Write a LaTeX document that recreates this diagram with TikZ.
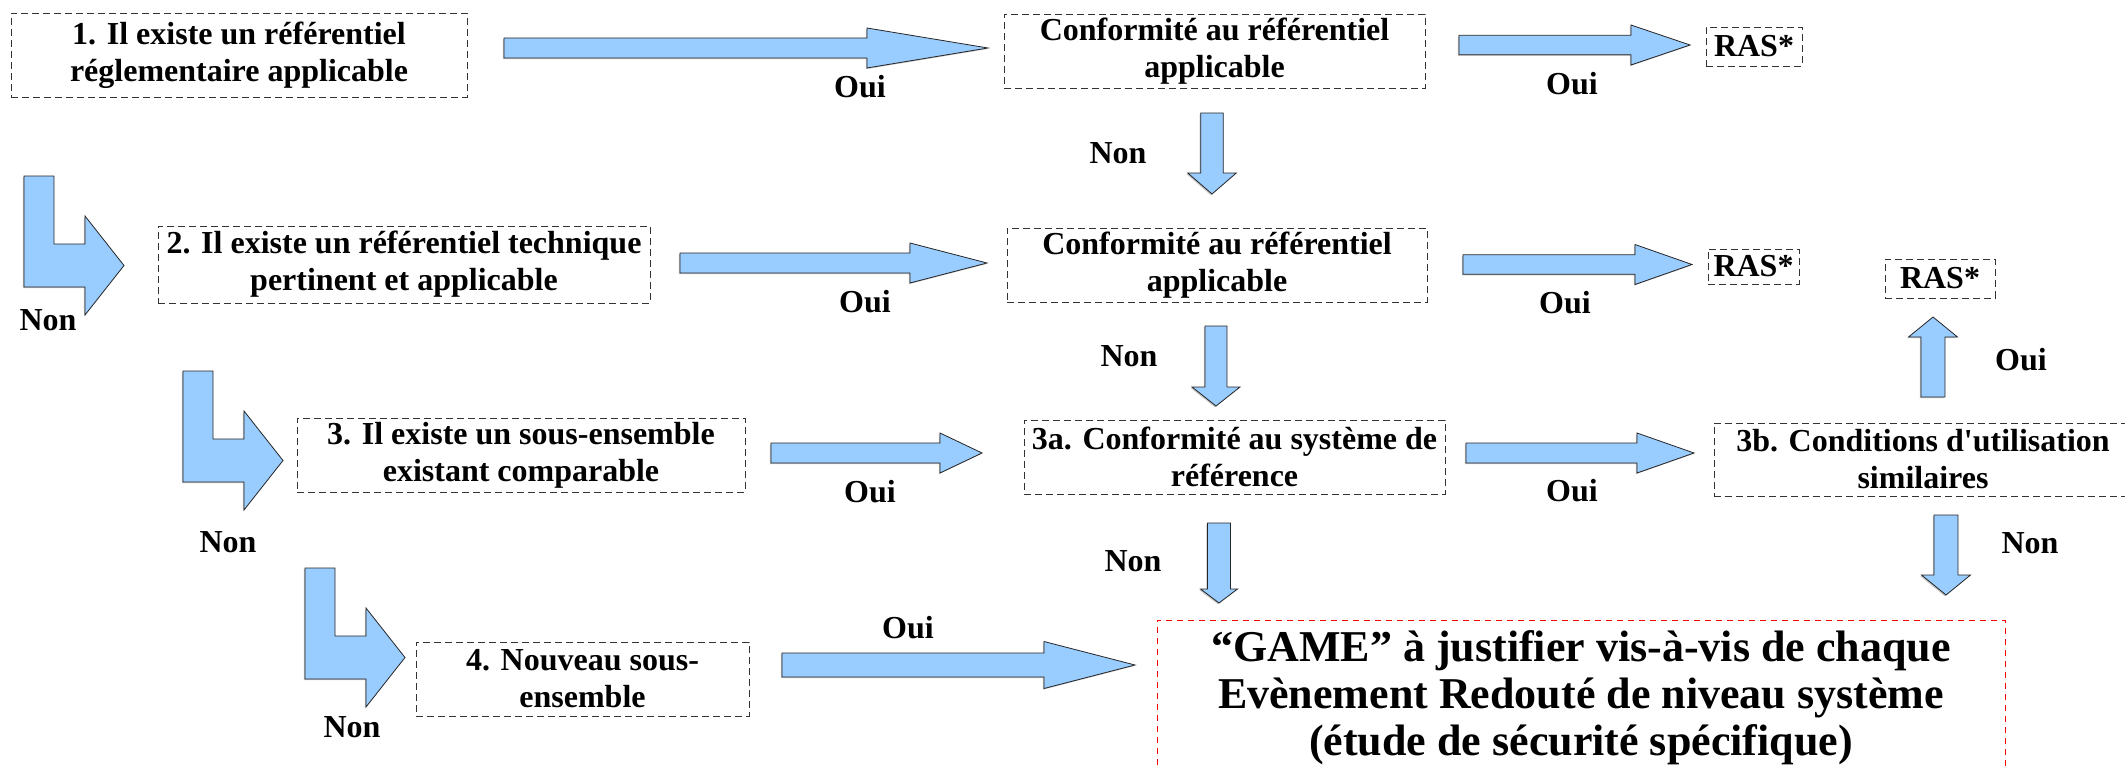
\documentclass[tikz,border=0pt]{standalone}
\usepackage{fontspec}
\setmainfont{Liberation Serif}
\usepackage{tikz}
\usetikzlibrary{calc,shadows}
\definecolor{arrowblue}{HTML}{99CCFF}
\tikzset{
  box/.style={draw=black!80,line width=0.8pt,dash pattern=on 7pt off 4pt,align=center,inner sep=0pt,font=\fontsize{32}{37}\selectfont\bfseries},
  gamebox/.style={draw=red,line width=0.8pt,dash pattern=on 6pt off 5pt,align=center,inner sep=0pt,font=\fontsize{44}{47}\selectfont\bfseries},
  lbl/.style={inner sep=0pt,font=\fontsize{32}{37}\selectfont\bfseries},
  arrowfill/.style={fill=arrowblue,draw=black!85,line width=0.8pt,drop shadow={shadow xshift=-1.2pt,shadow yshift=-1.2pt,fill=black!45}}
}
\newcommand{\blockarrow}[5]{%
  \coordinate (neck) at ($(#2)!#5pt!(#1)$);
  \filldraw[arrowfill] ($(#1)!#3pt!90:(#2)$) -- ($(neck)!#3pt!-90:(#1)$) -- ($(neck)!#4pt!-90:(#1)$) -- (#2)
    -- ($(neck)!#4pt!90:(#1)$) -- ($(neck)!#3pt!90:(#1)$) -- ($(#1)!#3pt!-90:(#2)$) -- cycle;}
\newcommand{\bentarrow}[1]{%
  \filldraw[arrowfill,shift={#1}] (0,0) -- (30,0) -- (30,68) -- (61,68) -- (61,40) -- (100,89.5)
    -- (61,139) -- (61,111) -- (0,111) -- cycle;}

\begin{document}
\begin{tikzpicture}[x=1pt,y=-1pt]
\useasboundingbox (0,0) rectangle (2125,768);
\clip (0,0) rectangle (2125,768);
\node[box,minimum width=456pt,minimum height=84pt] (q1) at (239,55) {1. Il existe un référentiel\\réglementaire applicable};
\node[box,minimum width=421pt,minimum height=74pt] (c1) at (1214.5,51) {Conformité au référentiel\\applicable};
\node[box,minimum width=96pt,minimum height=39pt] (ras1) at (1754,46.5) {RAS*};
\node[box,minimum width=492pt,minimum height=77pt] (q2) at (404,264.5) {2. Il existe un référentiel technique\\pertinent et applicable};
\node[box,minimum width=420pt,minimum height=74pt] (c2) at (1217,265) {Conformité au référentiel\\applicable};
\node[box,minimum width=91pt,minimum height=35pt] (ras2) at (1753.5,266.5) {RAS*};
\node[box,minimum width=110pt,minimum height=39pt] (ras3) at (1940,278.5) {RAS*};
\node[box,minimum width=448pt,minimum height=74pt] (q3) at (521,455) {3. Il existe un sous-ensemble\\existant comparable};
\node[box,minimum width=421pt,minimum height=74pt] (c3a) at (1234.5,457) {3a. Conformité au système de\\référence};
\node[box,minimum width=418pt,minimum height=73pt] (c3b) at (1923,459.5) {3b. Conditions d\textquotesingle utilisation\\similaires};
\node[box,minimum width=333pt,minimum height=74pt] (q4) at (582.5,679) {4. Nouveau sous-\\ensemble};
\node[gamebox,minimum width=848pt,minimum height=156pt] (game) at (1581,698) {“GAME” à justifier vis-à-vis de chaque\\Evènement Redouté de niveau système\\(étude de sécurité spécifique)};

\coordinate (a1s) at (504,48); \coordinate (a1e) at (988,48);
\coordinate (r1s) at (1459,45); \coordinate (r1e) at (1690,45);
\coordinate (d1s) at (1212,113); \coordinate (d1e) at (1212,194);
\coordinate (a2s) at (680,263); \coordinate (a2e) at (987,263);
\coordinate (r2s) at (1463,264.5); \coordinate (r2e) at (1692,264.5);
\coordinate (d2s) at (1216,326); \coordinate (d2e) at (1216,406);
\coordinate (u1s) at (1933,397); \coordinate (u1e) at (1933,317);
\coordinate (a3s) at (771,453); \coordinate (a3e) at (982,453);
\coordinate (r3s) at (1466,453); \coordinate (r3e) at (1694,453);
\coordinate (d3s) at (1219,523); \coordinate (d3e) at (1219,603);
\coordinate (d4s) at (1946,515); \coordinate (d4e) at (1946,595);
\coordinate (a4s) at (782,665); \coordinate (a4e) at (1135,665);

\blockarrow{a1s}{a1e}{10}{20}{121}
\blockarrow{r1s}{r1e}{9.7}{20}{59}
\blockarrow{d1s}{d1e}{11.3}{24.3}{21}
\blockarrow{a2s}{a2e}{10}{20}{77}
\blockarrow{r2s}{r2e}{9.7}{20}{57}
\blockarrow{d2s}{d2e}{11}{24}{19}
\blockarrow{u1s}{u1e}{12}{24.5}{20}
\blockarrow{a3s}{a3e}{10}{20}{42}
\blockarrow{r3s}{r3e}{10}{20}{57}
\blockarrow{d3s}{d3e}{11.5}{18.5}{14}
\blockarrow{d4s}{d4e}{12}{24.5}{20}
\blockarrow{a4s}{a4e}{12}{23.5}{91}

\bentarrow{(24,176)}
\bentarrow{(183,371)}
\bentarrow{(305,568)}

\node[lbl] (oui1) at (860,87) {Oui};
\node[lbl] (oui1r) at (1572,84) {Oui};
\node[lbl] (non1) at (1118,153) {Non};
\node[lbl] (nonb1) at (48,320) {Non};
\node[lbl] (oui2) at (865,302) {Oui};
\node[lbl] (oui2r) at (1565,303) {Oui};
\node[lbl] (non2) at (1129,356) {Non};
\node[lbl] (ouiu) at (2021,360) {Oui};
\node[lbl] (nonb2) at (228,542) {Non};
\node[lbl] (oui3) at (870,492) {Oui};
\node[lbl] (oui3r) at (1572,491) {Oui};
\node[lbl] (non3a) at (1133,561) {Non};
\node[lbl] (non3b) at (2030,543) {Non};
\node[lbl] (oui4) at (908,628) {Oui};
\node[lbl] (nonb3) at (352,727) {Non};
\end{tikzpicture}
\end{document}
